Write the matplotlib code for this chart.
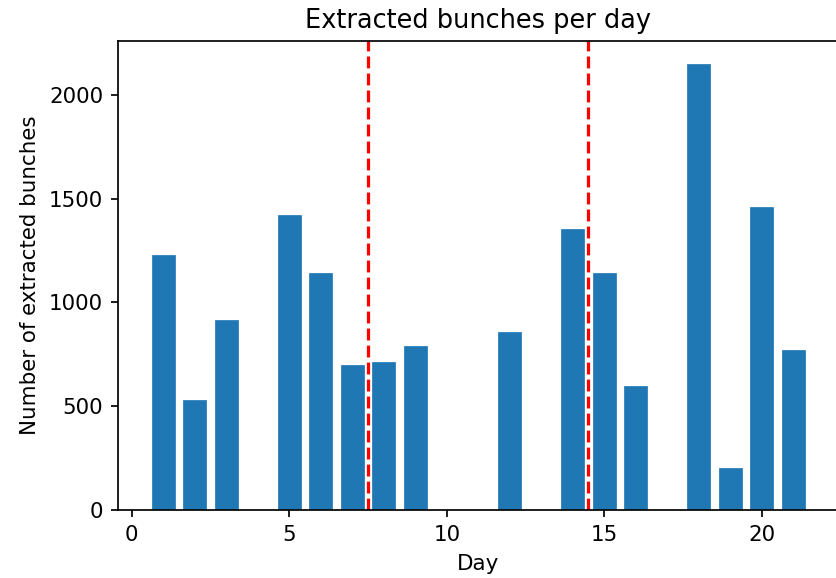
import matplotlib
matplotlib.use("Agg")
import matplotlib.pyplot as plt

# extracted bunches per day (days with no extraction are left out)
days = [1, 2, 3, 5, 6, 7, 8, 9, 12, 14, 15, 16, 18, 19, 20, 21]
bunches = [1231, 537, 918, 1425, 1149, 702, 716, 793, 860, 1360, 1146, 600, 2152, 205, 1466, 777]
# period boundaries
boundaries = [7.5, 14.5]

dpi = 154
fig = plt.figure(figsize=(836 / dpi, 578 / dpi), dpi=dpi)
# right spine sits just past the right edge, as in the cropped reference
ax = fig.add_axes([118 / 836, (578 - 510) / 578, 720.5 / 836, 469 / 578])

ax.bar(days, bunches, width=0.8, color="#1f77b4", edgecolor="white", linewidth=0.6)
for b in boundaries:
    ax.axvline(b, color="r", ls="--", lw=1.5)

ax.set_title("Extracted bunches per day")
ax.set_xlabel("Day")
ax.set_ylabel("Number of extracted bunches")

fig.savefig("out.png", dpi=dpi)
